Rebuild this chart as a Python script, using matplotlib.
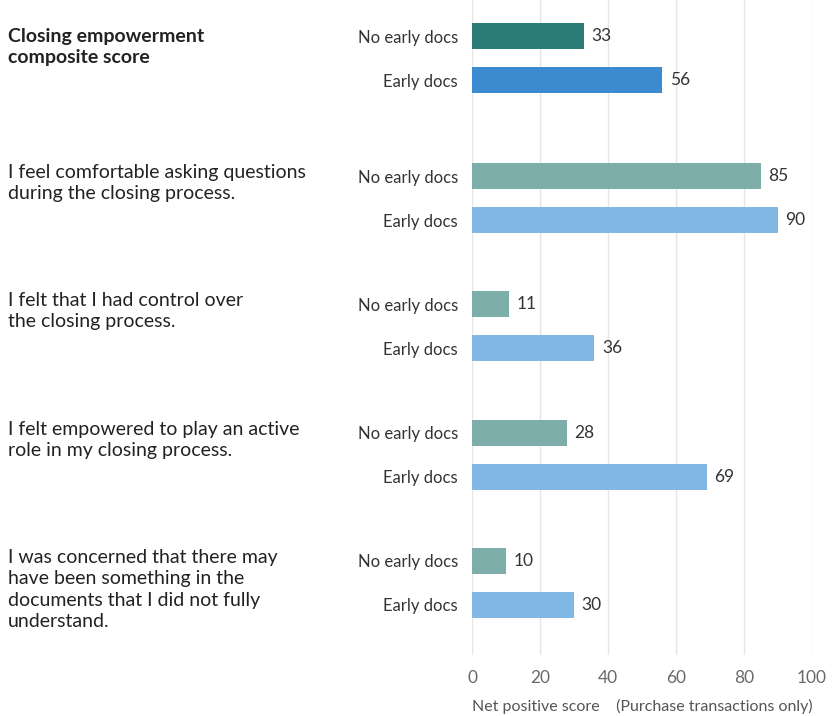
import matplotlib.pyplot as plt
import matplotlib.transforms as mtransforms
import numpy as np

plt.rcParams['font.family'] = ['Lato', 'DejaVu Sans']

# data
questions = ['Closing empowerment\ncomposite score',
             'I feel comfortable asking questions\nduring the closing process.',
             'I felt that I had control over\nthe closing process.',
             'I felt empowered to play an active\nrole in my closing process.',
             'I was concerned that there may\nhave been something in the\ndocuments that I did not fully\nunderstand.']
no_early = [33, 85, 11, 28, 10]
early = [56, 90, 36, 69, 30]
sub_labels = ['No early docs', 'Early docs']

# layout (pixel-like units, top = 0)
centers = [58, 198, 326, 455, 583]
offset = 22
bar_h = 26

fig = plt.figure(figsize=(8.32, 7.16), dpi=100)
ax = fig.add_axes([472/832, 1-655/716, 340/832, 655/716])

y1 = np.array(centers) - offset
y2 = np.array(centers) + offset
c1 = ['#2b7c77'] + ['#7eaeaa'] * 4
c2 = ['#3a8bd0'] + ['#80b7e5'] * 4
ax.barh(y1, no_early, height=bar_h, color=c1, zorder=3)
ax.barh(y2, early, height=bar_h, color=c2, zorder=3)

for y, v in zip(y1, no_early):
    ax.text(v + 2.2, y, str(v), va='center', ha='left', fontsize=12.5, color='#333333')
for y, v in zip(y2, early):
    ax.text(v + 2.2, y, str(v), va='center', ha='left', fontsize=12.5, color='#333333')

ax.set_xlim(0, 100)
ax.set_ylim(655, 0)
ax.set_xticks([0, 20, 40, 60, 80, 100])
ax.tick_params(axis='x', length=0, pad=11, labelsize=12.5, labelcolor='#6a6a6a')
yt = np.ravel(np.column_stack([y1, y2]))
ax.set_yticks(yt)
ax.set_yticklabels(sub_labels * len(centers))
ax.tick_params(axis='y', length=0, pad=10, labelsize=12, labelcolor='#333333')
ax.grid(axis='x', color='#e6e6e6', linewidth=1, zorder=0)
for s in ax.spines.values():
    s.set_visible(False)

ax.set_xlabel('Net positive score    (Purchase transactions only)', fontsize=11.5,
              color='#555555', labelpad=9)

trans = mtransforms.blended_transform_factory(fig.transFigure, ax.transData)
for i, (q, y) in enumerate(zip(questions, y1)):
    top = y - bar_h/2 + (5 if i == 0 else 1)
    ax.text(8/832, top, q, transform=trans, ha='left', va='top',
            fontsize=14, color='#222222', linespacing=1.32,
            fontweight='bold' if i == 0 else 'normal')

fig.savefig('out.png', dpi=100)
